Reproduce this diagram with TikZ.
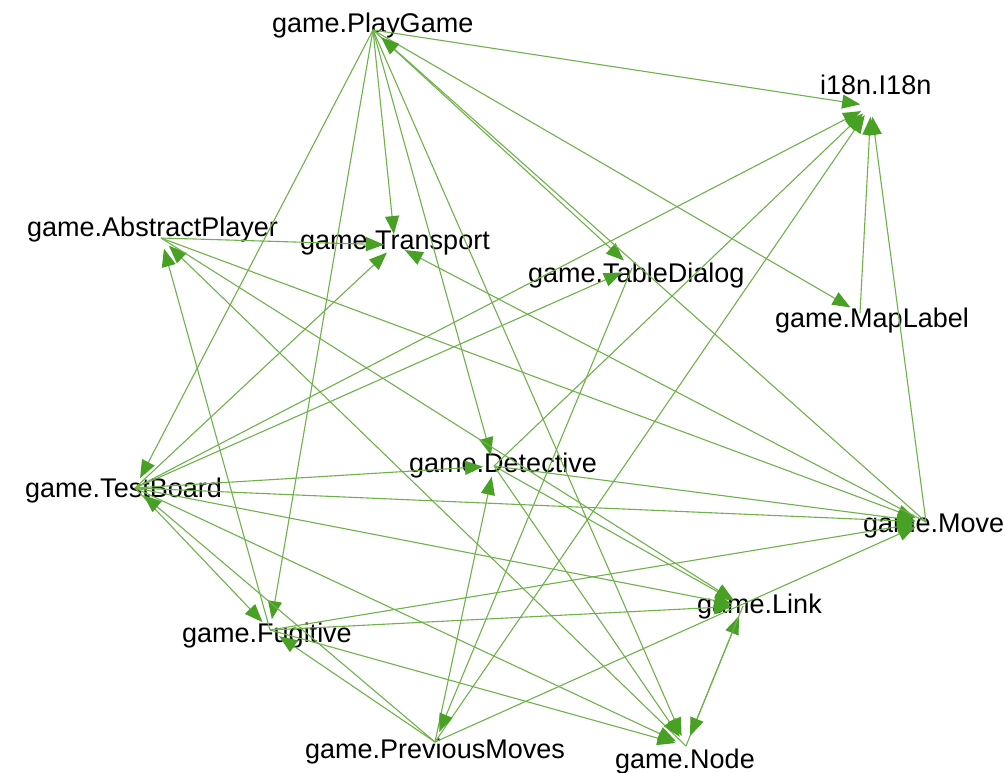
\documentclass[tikz,border=0pt]{standalone}
\usepackage{fontspec}
\setmainfont{Liberation Sans}
\usetikzlibrary{arrows.meta}
\definecolor{edgegreen}{RGB}{112,178,74}
\definecolor{tipgreen}{RGB}{72,160,36}
\begin{document}
\begin{tikzpicture}[x=1pt,y=-1pt,
  label/.style={anchor=base west,inner sep=0pt,text=black,font=\fontsize{27}{30}\selectfont},
  dep/.style={draw=edgegreen,line width=1.1pt,
    -{Triangle[length=18pt,width=14pt,color=tipgreen]},shorten >=11pt}]
\useasboundingbox (0,0) rectangle (1005,772);
\fill[white] (0,0) rectangle (1005,772);

% class labels
\node[label] (lPlay)  at (272,32)  {game.PlayGame};
\node[label] (lI18n)  at (820,94)  {i18n.I18n};
\node[label] (lAbs)   at (27,236)  {game.AbstractPlayer};
\node[label] (lTrans) at (300,249) {game.Transport};
\node[label] (lTable) at (528,282) {game.TableDialog};
\node[label] (lMap)   at (775,327) {game.MapLabel};
\node[label] (lDet)   at (409,472) {game.Detective};
\node[label] (lTest)  at (25,497)  {game.TestBoard};
\node[label] (lMove)  at (863,532) {game.Move};
\node[label] (lLink)  at (697,613) {game.Link};
\node[label] (lFug)   at (182,642) {game.Fugitive};
\node[label] (lPrev)  at (305,758) {game.PreviousMoves};
\node[label] (lNode)  at (615,768) {game.Node};

% graph vertices
\coordinate (P)  at (373,30);
\coordinate (I)  at (871,106);
\coordinate (A)  at (161,238);
\coordinate (T)  at (395,245);
\coordinate (TD) at (632,268);
\coordinate (M)  at (860,313);
\coordinate (D)  at (494,466);
\coordinate (TB) at (135,488);
\coordinate (Mv) at (926,522);
\coordinate (L)  at (743,606);
\coordinate (F)  at (270,630);
\coordinate (PM) at (435,742);
\coordinate (N)  at (686,746);

% dependencies
\foreach \s/\t in {P/TB,P/F,P/T,P/D,P/N,P/TD,P/M,P/I,Mv/P,
                   TB/I,D/I,PM/I,M/I,Mv/I,
                   A/T,F/A,A/Mv,Mv/T,N/A,A/L,
                   TB/F,PM/TB,TB/D,TB/Mv,TB/L,TB/N,TB/T,TB/TD,
                   D/Mv,D/L,D/N,PM/D,
                   F/Mv,F/L,F/N,PM/F,PM/Mv,TD/PM,N/L,L/N}
  \draw[dep] (\s) -- (\t);
\end{tikzpicture}
\end{document}
